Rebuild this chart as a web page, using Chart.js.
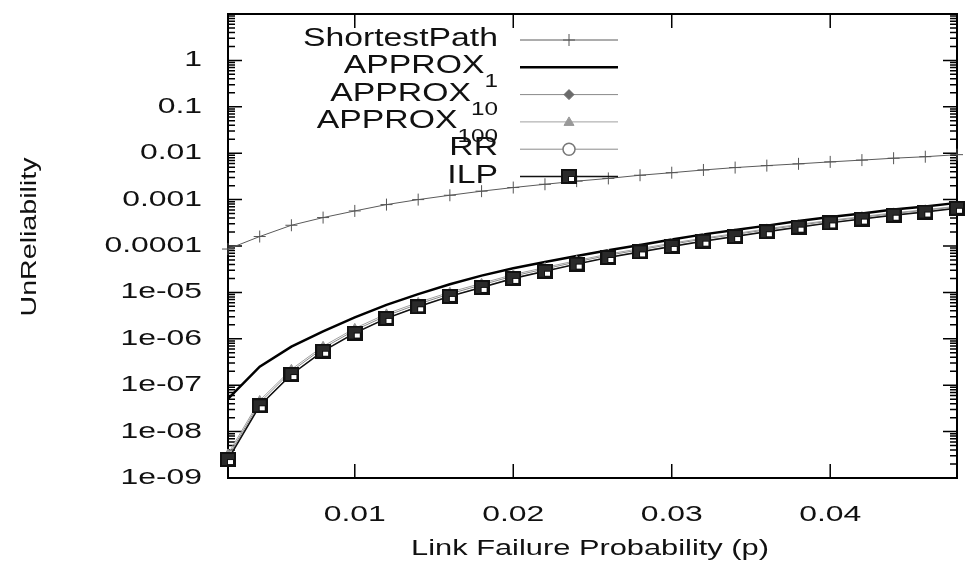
<!DOCTYPE html>
<html>
<head>
<meta charset="utf-8">
<script src="https://cdn.jsdelivr.net/npm/chart.js@4.4.1/dist/chart.umd.min.js"></script>
<style>
    body { margin: 0; background: #fff; }
</style>
</head>
<body>
<canvas id="myChart" width="966" height="570"></canvas>
<script>
// link failure probability (x)
var probabilidades = [0.002, 0.004, 0.006, 0.008, 0.010, 0.012, 0.014, 0.016, 0.018, 0.020, 0.022, 0.024,
    0.026, 0.028, 0.030, 0.032, 0.034, 0.036, 0.038, 0.040, 0.042, 0.044, 0.046, 0.048];

// unreliability per method
var shortestPath = [8.6e-5, 1.6e-4, 2.8e-4, 4.1e-4, 5.7e-4, 7.8e-4, 1.0e-3, 1.24e-3, 1.52e-3, 1.82e-3, 2.14e-3, 2.5e-3,
    2.86e-3, 3.35e-3, 3.8e-3, 4.35e-3, 4.9e-3, 5.4e-3, 5.9e-3, 6.5e-3, 7.1e-3, 7.8e-3, 8.4e-3, 9.3e-3];
var approx1 = [5.1e-8, 2.5e-7, 6.8e-7, 1.45e-6, 2.9e-6, 5.4e-6, 9.2e-6, 1.5e-5, 2.3e-5, 3.3e-5, 4.5e-5, 6.1e-5,
    8.1e-5, 1.05e-4, 1.38e-4, 1.78e-4, 2.2e-4, 2.75e-4, 3.45e-4, 4.2e-4, 5.0e-4, 6.1e-4, 7.1e-4, 8.5e-4];
var approx10 = [2.9e-9, 4.2e-8, 2.0e-7, 6.3e-7, 1.53e-6, 3.15e-6, 5.6e-6, 9.3e-6, 1.45e-5, 2.25e-5, 3.2e-5, 4.55e-5,
    6.3e-5, 8.3e-5, 1.09e-4, 1.41e-4, 1.77e-4, 2.24e-4, 2.8e-4, 3.45e-4, 4.15e-4, 5.0e-4, 5.9e-4, 7.0e-4];
var approx100 = [3.3e-9, 4.7e-8, 2.2e-7, 6.9e-7, 1.68e-6, 3.45e-6, 6.1e-6, 1.01e-5, 1.57e-5, 2.42e-5, 3.45e-5, 4.85e-5,
    6.7e-5, 8.8e-5, 1.15e-4, 1.48e-4, 1.85e-4, 2.34e-4, 2.92e-4, 3.58e-4, 4.3e-4, 5.18e-4, 6.05e-4, 7.2e-4];
var rr = [2.6e-9, 3.7e-8, 1.75e-7, 5.5e-7, 1.36e-6, 2.8e-6, 5.0e-6, 8.4e-6, 1.3e-5, 2.05e-5, 2.9e-5, 4.15e-5,
    5.75e-5, 7.6e-5, 1.0e-4, 1.29e-4, 1.63e-4, 2.07e-4, 2.6e-4, 3.2e-4, 3.87e-4, 4.68e-4, 5.5e-4, 6.6e-4];
var ilp = [2.5e-9, 3.6e-8, 1.7e-7, 5.4e-7, 1.33e-6, 2.75e-6, 4.9e-6, 8.2e-6, 1.28e-5, 2.0e-5, 2.86e-5, 4.07e-5,
    5.66e-5, 7.45e-5, 9.8e-5, 1.27e-4, 1.6e-4, 2.03e-4, 2.55e-4, 3.15e-4, 3.8e-4, 4.6e-4, 5.4e-4, 6.5e-4];

// legend names, subscript after "_"
var nomes = ['ShortestPath', 'APPROX_1', 'APPROX_10', 'APPROX_100', 'RR', 'ILP'];

// axes
var xMin = 0.002, xMax = 0.048;
var xTicks = [0.01, 0.02, 0.03, 0.04];
var xTickLabels = ['0.01', '0.02', '0.03', '0.04'];
var yMin = 1e-9, yMax = 10;
var yTicks = [1e-9, 1e-8, 1e-7, 1e-6, 1e-5, 1e-4, 1e-3, 1e-2, 1e-1, 1];
var yTickLabels = ['1e-09', '1e-08', '1e-07', '1e-06', '1e-05', '0.0001', '0.001', '0.01', '0.1', '1'];

var FONTE = '"Liberation Sans", Arial, sans-serif';

function pontos(valores) {
    return valores.map(function (v, i) { return { x: probabilidades[i], y: v }; });
}

// ILP square marker (black box with small white inset)
var marcaILP = document.createElement('canvas');
marcaILP.width = 16;
marcaILP.height = 15;
var mctx = marcaILP.getContext('2d');
mctx.fillStyle = '#111';
mctx.fillRect(0, 0, 16, 15);
mctx.fillStyle = '#2a2a2a';
mctx.fillRect(2, 2, 12, 11);
mctx.fillStyle = '#fff';
mctx.fillRect(8, 8, 5, 4);
mctx.strokeStyle = '#111';
mctx.lineWidth = 1;
mctx.strokeRect(7.5, 7.5, 6, 5);

function esticado(ctx, texto, x, y, alinhar, fator) {
    var w = ctx.measureText(texto).width * fator;
    var x0 = alinhar === 'right' ? x - w : (alinhar === 'center' ? x - w / 2 : x);
    ctx.save();
    ctx.translate(x0, y);
    ctx.scale(fator, 1);
    ctx.textAlign = 'left';
    ctx.fillText(texto, 0, 0);
    ctx.restore();
    return w;
}

function desenharMarca(ctx, ds, x, y) {
    var r = ds.pointRadius;
    ctx.save();
    ctx.strokeStyle = ds.pointBorderColor;
    ctx.fillStyle = ds.pointBackgroundColor;
    ctx.lineWidth = ds.pointBorderWidth;
    ctx.beginPath();
    if (ds.pointStyle === 'cross') {
        ctx.moveTo(x - r, y); ctx.lineTo(x + r, y);
        ctx.moveTo(x, y - r); ctx.lineTo(x, y + r);
        ctx.stroke();
    } else if (ds.pointStyle === 'rectRot') {
        ctx.moveTo(x, y - r); ctx.lineTo(x + r, y); ctx.lineTo(x, y + r); ctx.lineTo(x - r, y);
        ctx.closePath(); ctx.fill(); ctx.stroke();
    } else if (ds.pointStyle === 'triangle') {
        ctx.moveTo(x, y - r); ctx.lineTo(x + r, y + r * 0.7); ctx.lineTo(x - r, y + r * 0.7);
        ctx.closePath(); ctx.fill(); ctx.stroke();
    } else if (ds.pointStyle === 'circle') {
        ctx.arc(x, y, r, 0, Math.PI * 2);
        ctx.fill(); ctx.stroke();
    } else if (ds.pointStyle instanceof HTMLCanvasElement) {
        ctx.drawImage(ds.pointStyle, x - ds.pointStyle.width / 2, y - ds.pointStyle.height / 2);
    }
    ctx.restore();
}

// frame and inward tick marks
var molduraPlugin = {
    id: 'moldura',
    beforeDatasetsDraw: function (chart) {
        var ctx = chart.ctx, a = chart.chartArea, sx = chart.scales.x, sy = chart.scales.y;
        ctx.save();
        ctx.strokeStyle = '#000';
        ctx.lineWidth = 1.5;
        ctx.beginPath();
        for (var d = -9; d <= 0; d++) {
            for (var m = 1; m <= 9; m++) {
                var py = sy.getPixelForValue(m * Math.pow(10, d));
                var len = m === 1 ? 14 : 7;
                ctx.moveTo(a.left, py); ctx.lineTo(a.left + len, py);
                ctx.moveTo(a.right, py); ctx.lineTo(a.right - len, py);
            }
        }
        xTicks.forEach(function (v) {
            var px = sx.getPixelForValue(v);
            ctx.moveTo(px, a.bottom); ctx.lineTo(px, a.bottom - 14);
            ctx.moveTo(px, a.top); ctx.lineTo(px, a.top + 14);
        });
        ctx.stroke();
        ctx.lineWidth = 2;
        ctx.strokeRect(a.left, a.top, a.right - a.left, a.bottom - a.top);
        ctx.restore();
    }
};

// tick labels, axis titles, legend
var textosPlugin = {
    id: 'textos',
    afterDraw: function (chart) {
        var ctx = chart.ctx, a = chart.chartArea, sx = chart.scales.x, sy = chart.scales.y;
        ctx.save();
        ctx.fillStyle = '#111';
        ctx.textBaseline = 'middle';
        ctx.font = '22px ' + FONTE;
        yTicks.forEach(function (v, i) {
            esticado(ctx, yTickLabels[i], a.left - 26, sy.getPixelForValue(v), 'right', 1.45);
        });
        xTicks.forEach(function (v, i) {
            esticado(ctx, xTickLabels[i], sx.getPixelForValue(v), a.bottom + 37, 'center', 1.45);
        });
        ctx.font = '22px ' + FONTE;
        esticado(ctx, 'Link Failure Probability (p)', 590, 549, 'center', 1.4);

        ctx.save();
        ctx.translate(30, 237);
        ctx.rotate(-Math.PI / 2);
        esticado(ctx, 'UnReliability', 0, 0, 'center', 1.3);
        ctx.restore();

        // legend
        ctx.textBaseline = 'alphabetic';
        var ordem = [5, 4, 3, 2, 1, 0];
        nomes.forEach(function (nome, i) {
            var ds = chart.data.datasets[ordem[i]];
            var base = a.top + 32 + i * 27.3;
            var partes = nome.split('_');
            ctx.font = '18px ' + FONTE;
            var wSub = partes[1] ? ctx.measureText(partes[1]).width * 1.35 : 0;
            ctx.font = '25px ' + FONTE;
            esticado(ctx, partes[0], 498 - wSub, base, 'right', 1.35);
            if (partes[1]) {
                ctx.font = '18px ' + FONTE;
                esticado(ctx, partes[1], 498 - wSub, base + 14, 'left', 1.35);
            }
            var ly = base - 6;
            ctx.save();
            ctx.strokeStyle = ds.borderColor;
            ctx.lineWidth = ds.borderWidth;
            ctx.beginPath();
            ctx.moveTo(520, ly);
            ctx.lineTo(618, ly);
            ctx.stroke();
            ctx.restore();
            if (ds.pointRadius > 0) {
                desenharMarca(ctx, ds, 569, ly);
            }
        });
        ctx.restore();
    }
};

var ctx = document.getElementById('myChart');

var grafico = new Chart(ctx, {
    type: 'line',
    data: {
        datasets: [{
            label: 'ILP',
            data: pontos(ilp),
            borderColor: '#111',
            borderWidth: 1.5,
            pointStyle: marcaILP,
            pointRadius: 8,
            pointBorderColor: '#111',
            pointBackgroundColor: '#111',
            pointBorderWidth: 1,
            order: 0
        }, {
            label: 'RR',
            data: pontos(rr),
            borderColor: '#8a8a8a',
            borderWidth: 1,
            pointStyle: 'circle',
            pointRadius: 6,
            pointBorderColor: '#777',
            pointBackgroundColor: '#fff',
            pointBorderWidth: 1.5,
            order: 1
        }, {
            label: 'APPROX_100',
            data: pontos(approx100),
            borderColor: '#a0a0a0',
            borderWidth: 1,
            pointStyle: 'triangle',
            pointRadius: 5,
            pointBorderColor: '#999',
            pointBackgroundColor: '#999',
            pointBorderWidth: 1,
            order: 2
        }, {
            label: 'APPROX_10',
            data: pontos(approx10),
            borderColor: '#888',
            borderWidth: 1,
            pointStyle: 'rectRot',
            pointRadius: 5,
            pointBorderColor: '#6a6a6a',
            pointBackgroundColor: '#6a6a6a',
            pointBorderWidth: 1,
            order: 3
        }, {
            label: 'APPROX_1',
            data: pontos(approx1),
            borderColor: '#000',
            borderWidth: 2.5,
            pointRadius: 0,
            order: 4
        }, {
            label: 'ShortestPath',
            data: pontos(shortestPath),
            borderColor: '#5a5a5a',
            borderWidth: 1,
            pointStyle: 'cross',
            pointRadius: 6,
            pointBorderColor: '#555',
            pointBackgroundColor: '#555',
            pointBorderWidth: 1,
            order: 5
        }]
    },
    options: {
        responsive: false,
        animation: false,
        devicePixelRatio: 1,
        clip: false,
        layout: { padding: { top: 14, right: 4, left: 0, bottom: 0 } },
        elements: { line: { tension: 0 } },
        plugins: {
            legend: { display: false },
            tooltip: { enabled: false }
        },
        scales: {
            x: {
                type: 'linear',
                min: xMin,
                max: xMax,
                grid: { display: false },
                border: { display: false },
                ticks: { display: false },
                afterBuildTicks: function (s) {
                    s.ticks = xTicks.map(function (v) { return { value: v }; });
                },
                afterFit: function (s) { s.height = 92; }
            },
            y: {
                type: 'logarithmic',
                min: yMin,
                max: yMax,
                grid: { display: false },
                border: { display: false },
                ticks: { display: false },
                afterBuildTicks: function (s) {
                    s.ticks = yTicks.map(function (v) { return { value: v }; });
                },
                afterFit: function (s) { s.width = 228; }
            }
        }
    },
    plugins: [molduraPlugin, textosPlugin]
});
</script>
</body>
</html>
